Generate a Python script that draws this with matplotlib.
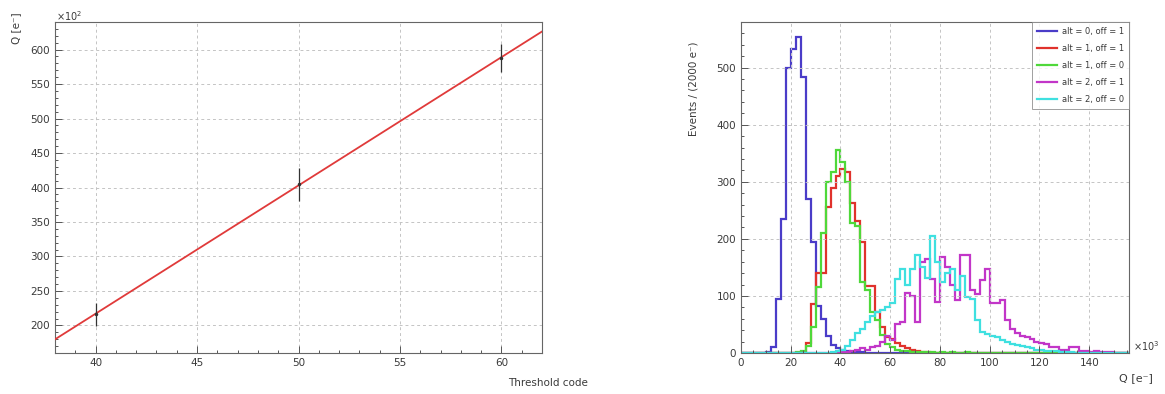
import numpy as np
import matplotlib
matplotlib.use("Agg")
import matplotlib.pyplot as plt
from matplotlib.ticker import MultipleLocator
from matplotlib.lines import Line2D

# ---- threshold calibration data (Q in units of 10^2 e-) ----
threshold_codes = [40, 50, 60]
charge_q = [216, 405, 588]
charge_err = [17, 24, 20]

# ---- charge spectra, bin width 2 (units of 10^3 e-), range 0..156 ----
bin_width = 2
n_bins = 78

counts_alt0_off1 = [0, 0, 0, 0, 0, 2, 10, 95, 235, 500, 533, 553, 483, 270, 195, 82,
                    60, 30, 14, 8, 5, 3, 2, 1, 1, 0, 0, 0, 0, 0, 0, 0,
                    0, 0, 0, 0, 0, 0, 0, 0, 0, 0, 0, 0, 0, 0, 0, 0,
                    0, 0, 0, 0, 0, 0, 0, 0, 0, 0, 0, 0, 0, 0, 0, 0,
                    0, 0, 0, 0, 0, 0, 0, 0, 0, 0, 0, 0, 0, 0]
counts_alt1_off1 = [0, 0, 0, 0, 0, 0, 0, 0, 0, 0, 0, 0, 2, 18, 85, 140,
                    140, 255, 290, 310, 322, 318, 262, 232, 195, 118, 118, 72, 45, 28, 24, 18,
                    12, 8, 5, 3, 2, 1, 0, 0, 0, 0, 0, 0, 0, 0, 0, 0,
                    0, 0, 0, 0, 0, 0, 0, 0, 0, 0, 0, 0, 0, 0, 0, 0,
                    0, 0, 0, 0, 0, 0, 0, 0, 0, 0, 0, 0, 0, 0]
counts_alt1_off0 = [0, 0, 0, 0, 0, 0, 0, 0, 0, 0, 0, 1, 3, 12, 45, 115,
                    210, 300, 318, 355, 335, 300, 228, 222, 125, 110, 72, 58, 32, 15, 10, 6,
                    4, 3, 2, 1, 1, 1, 1, 0, 1, 0, 1, 0, 0, 1, 0, 0,
                    0, 0, 0, 0, 0, 0, 0, 0, 0, 0, 0, 0, 0, 0, 0, 0,
                    0, 0, 0, 0, 0, 0, 0, 0, 0, 0, 0, 0, 0, 0]
counts_alt2_off1 = [0, 0, 0, 0, 0, 0, 0, 0, 0, 0, 0, 0, 0, 0, 0, 0,
                    0, 0, 0, 0, 1, 2, 4, 6, 8, 5, 10, 12, 20, 30, 22, 50,
                    55, 105, 100, 55, 160, 165, 130, 90, 168, 150, 120, 92, 172, 172, 110, 104,
                    128, 148, 87, 87, 93, 57, 42, 35, 30, 28, 25, 20, 17, 15, 10, 10,
                    6, 5, 10, 10, 4, 3, 2, 3, 1, 1, 1, 0, 0, 0]
counts_alt2_off0 = [0, 0, 0, 0, 0, 0, 0, 0, 0, 0, 0, 0, 0, 0, 0, 0,
                    0, 0, 1, 3, 6, 12, 22, 35, 42, 55, 65, 72, 75, 80, 88, 130,
                    148, 120, 148, 172, 150, 132, 205, 160, 125, 140, 148, 110, 135, 98, 95, 57,
                    36, 34, 30, 28, 22, 20, 15, 14, 12, 10, 8, 6, 5, 4, 3, 3,
                    2, 1, 1, 0, 0, 0, 0, 0, 0, 0, 0, 0, 0, 0]

series_labels = ["alt = 0, off = 1", "alt = 1, off = 1", "alt = 1, off = 0",
                 "alt = 2, off = 1", "alt = 2, off = 0"]
series_colors = ["#4a3cc8", "#e0322c", "#4fd83a", "#c236c8", "#3fe0e0"]

text_col = "#3a3a3a"
grid_kw = dict(color="#c4c4c4", linestyle=(0, (3, 3)), linewidth=0.7)

W, H = 1165, 394
fig = plt.figure(figsize=(W / 100, H / 100), dpi=100)


def px_axes(x0, y0, x1, y1):
    return fig.add_axes([x0 / W, 1 - y1 / H, (x1 - x0) / W, (y1 - y0) / H])


def root_ticks(ax):
    ax.tick_params(which="both", direction="in", top=False, right=False,
                   colors="#555555", labelcolor=text_col, labelsize=7.5, width=0.7)
    ax.tick_params(which="major", length=5)
    ax.tick_params(which="minor", length=2.5)
    for s in ax.spines.values():
        s.set_color("#666666")
        s.set_linewidth(0.8)


# ---------------- left: Q vs threshold code ----------------
ax1 = px_axes(55, 22, 542, 353)
slope, intercept = np.polyfit(threshold_codes, charge_q, 1)
xfit = np.array([38.0, 62.0])
ax1.plot(xfit, slope * xfit + intercept, color="#e03a3a", lw=1.3, zorder=3)
ax1.errorbar(threshold_codes, charge_q, yerr=charge_err, fmt="o", ms=1.5,
             color="#333333", ecolor="#333333", elinewidth=0.9, capsize=0, zorder=4)
ax1.set_xlim(38, 62)
ax1.set_ylim(160, 640)
ax1.xaxis.set_major_locator(MultipleLocator(5))
ax1.xaxis.set_minor_locator(MultipleLocator(1))
ax1.yaxis.set_major_locator(MultipleLocator(50))
ax1.yaxis.set_minor_locator(MultipleLocator(10))
ax1.set_yticks([200, 250, 300, 350, 400, 450, 500, 550, 600])
ax1.grid(True, which="major", **grid_kw)
root_ticks(ax1)
fig.text(588 / W, 1 - 383 / H, "Threshold code", ha="right", va="center",
         fontsize=7.5, color=text_col)
fig.text(16 / W, 1 - 12 / H, "Q [e⁻]", ha="center", va="top", rotation=90,
         fontsize=7.5, color=text_col)
fig.text(56 / W, 1 - 16 / H, "×10$^{2}$", ha="left", va="center",
         fontsize=7, color=text_col)

# ---------------- right: charge spectra ----------------
ax2 = px_axes(741, 22, 1129, 353)
edges = np.arange(n_bins + 1) * bin_width
all_counts = [counts_alt0_off1, counts_alt1_off1, counts_alt1_off0,
              counts_alt2_off1, counts_alt2_off0]
for counts, col, lab in zip(all_counts, series_colors, series_labels):
    ax2.stairs(counts, edges, color=col, lw=1.6, baseline=0, label=lab)
ax2.set_xlim(0, 156)
ax2.set_ylim(0, 580)
ax2.xaxis.set_major_locator(MultipleLocator(20))
ax2.xaxis.set_minor_locator(MultipleLocator(5))
ax2.yaxis.set_major_locator(MultipleLocator(100))
ax2.yaxis.set_minor_locator(MultipleLocator(20))
ax2.set_xticks([0, 20, 40, 60, 80, 100, 120, 140])
ax2.grid(True, which="major", **grid_kw)
root_ticks(ax2)

handles = [Line2D([0], [0], color=c, lw=1.6) for c in series_colors]
leg = ax2.legend(handles, series_labels, loc="upper right", fontsize=6,
                 frameon=True, fancybox=False, borderpad=0.6, labelspacing=0.95,
                 handlelength=2.4, handletextpad=0.6, borderaxespad=0.0)
leg.get_frame().set_edgecolor("#888888")
leg.get_frame().set_linewidth(0.7)
for t in leg.get_texts():
    t.set_color(text_col)

fig.text(1153 / W, 1 - 378 / H, "Q [e⁻]", ha="right", va="center",
         fontsize=8, color=text_col)
fig.text(1133 / W, 1 - 346 / H, "×10$^{3}$", ha="left", va="center",
         fontsize=7, color=text_col)
fig.text(693 / W, 1 - 42 / H, "Events / (2000 e⁻)", ha="center", va="top",
         rotation=90, fontsize=7.5, color=text_col)

fig.savefig("out.png", dpi=100)
